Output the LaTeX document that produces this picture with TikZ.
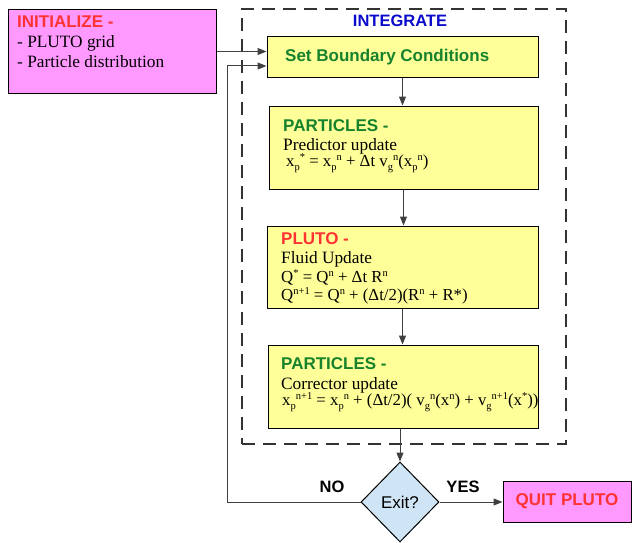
\documentclass[tikz,border=0pt]{standalone}
\usepackage{fontspec}
\setmainfont{Liberation Serif}
\newfontfamily\hdfont{Liberation Sans}
\usetikzlibrary{shapes.geometric,arrows.meta,calc}
\definecolor{magfill}{HTML}{FF99FF}
\definecolor{yelfill}{HTML}{FFFF99}
\definecolor{diafill}{HTML}{CFE4F4}
\definecolor{hdred}{HTML}{FF3333}
\definecolor{hdgreen}{HTML}{17822C}
\definecolor{hdblue}{HTML}{0A0ACC}
\newcommand{\smf}{\fontsize{10.5}{10.5}\selectfont}
\newcommand{\sbsp}[3]{#1\smash{\raisebox{-4pt}{\smf #2}\raisebox{6pt}{\smf #3}}}
\newcommand{\spo}[2]{#1\smash{\raisebox{6pt}{\smf #2}}}
\newcommand{\eqf}{\fontsize{16.8}{16}\selectfont}
\tikzset{
  box/.style={draw=black, line width=1pt, inner sep=0pt},
  hd/.style={font=\hdfont\bfseries\fontsize{17}{17}\selectfont, inner sep=0pt, anchor=base west},
  bd/.style={font=\fontsize{17.3}{16}\selectfont, inner sep=0pt, anchor=base west},
  eq/.style={font=\eqf, inner sep=0pt, anchor=base west},
  arr/.style={draw=black!75, line width=1pt, -{Triangle[length=9pt,width=7pt]}},
  lbl/.style={font=\hdfont\bfseries\fontsize{16.5}{16.5}\selectfont, inner sep=0pt}
}
\begin{document}
\begin{tikzpicture}[x=1pt,y=-1pt]
\useasboundingbox (0,0) rectangle (632,543);
% integrate dashed frame
\node[draw=black!80, line width=1.6pt, dash pattern=on 13pt off 8pt, inner sep=0pt,
      minimum width=324pt, minimum height=435pt] (frame) at (404,226.5) {};
\node[font=\hdfont\bfseries\fontsize{16.5}{16.5}\selectfont, text=hdblue, inner sep=0pt, anchor=base] (intl) at (400,27) {INTEGRATE};
% boxes
\node[box, fill=magfill, minimum width=208pt, minimum height=83pt] (init) at (112,51.5) {};
\node[box, fill=yelfill, minimum width=271pt, minimum height=41pt] (sbc) at (402.5,57.5) {};
\node[box, fill=yelfill, minimum width=269pt, minimum height=83pt] (p1) at (403.5,147.5) {};
\node[box, fill=yelfill, minimum width=271pt, minimum height=82pt] (pluto) at (402.5,267) {};
\node[box, fill=yelfill, minimum width=270pt, minimum height=83pt] (p2) at (403,386.5) {};
\node[draw=black, line width=1pt, fill=diafill, shape=diamond, inner sep=0pt,
      minimum width=78pt, minimum height=80pt, font=\hdfont\fontsize{17}{17}\selectfont] (dia) at (400,502) {Exit?};
\node[box, fill=magfill, minimum width=128pt, minimum height=41pt,
      font=\hdfont\bfseries\fontsize{17}{17}\selectfont, text=hdred] (quit) at (567,501.5) {QUIT PLUTO};
% texts
\node[hd, text=hdred] (initt) at (17,28) {INITIALIZE -};
\node[bd] (init1) at (17,48) {- PLUTO grid};
\node[bd] (init2) at (17,67) {- Particle distribution};
\node[hd, text=hdgreen] (sbct) at (285,62) {Set Boundary Conditions};
\node[hd, text=hdgreen] (p1t) at (283,131) {PARTICLES -};
\node[bd] (p1a) at (283,150) {\begin{tabular}[t]{@{}l@{}}Predictor update\\
  \eqf\hspace{3pt}\sbsp{x}{p}{*} = \sbsp{x}{p}{n} + Δt \sbsp{v}{g}{n}(\sbsp{x}{p}{n})\end{tabular}};
\node[hd, text=hdred] (plt) at (281,244) {PLUTO -};
\node[bd] (pla) at (281,263) {Fluid Update};
\node[eq] (plb) at (281,282) {\spo{Q}{*} = \spo{Q}{n} + Δt \spo{R}{n}};
\node[eq] (plc) at (281,300) {\spo{Q}{n+1} = \spo{Q}{n} + (Δt/2)(\spo{R}{n} + R*)};
\node[hd, text=hdgreen] (p2t) at (281,369) {PARTICLES -};
\node[bd] (p2a) at (281,389) {\begin{tabular}[t]{@{}l@{}}Corrector update\\
  \eqf\hspace{1pt}\sbsp{x}{p}{n+1} = \sbsp{x}{p}{n} + (Δt/2)( \sbsp{v}{g}{n}(\spo{x}{n}) + \sbsp{v}{g}{n+1}(\spo{x}{*}))\end{tabular}};
% labels
\node[lbl] (no) at (332,487) {NO};
\node[lbl] (yes) at (463,487) {YES};
% connectors
\draw[arr] (init.east) -- (init.east -| sbc.west);
\draw[arr] (sbc.south) -- (sbc.south |- p1.north);
\draw[arr] (p1.south) -- (p1.south |- pluto.north);
\draw[arr] (pluto.south) -- (pluto.south |- p2.north);
\draw[arr] (dia.north |- p2.south) -- (dia.north);
\coordinate (loopc) at (227,66);
\draw[arr] (dia.west) -| (loopc) -- (loopc -| sbc.west);
\draw[arr] (dia.east) -- (dia.east -| quit.west);
\end{tikzpicture}
\end{document}
